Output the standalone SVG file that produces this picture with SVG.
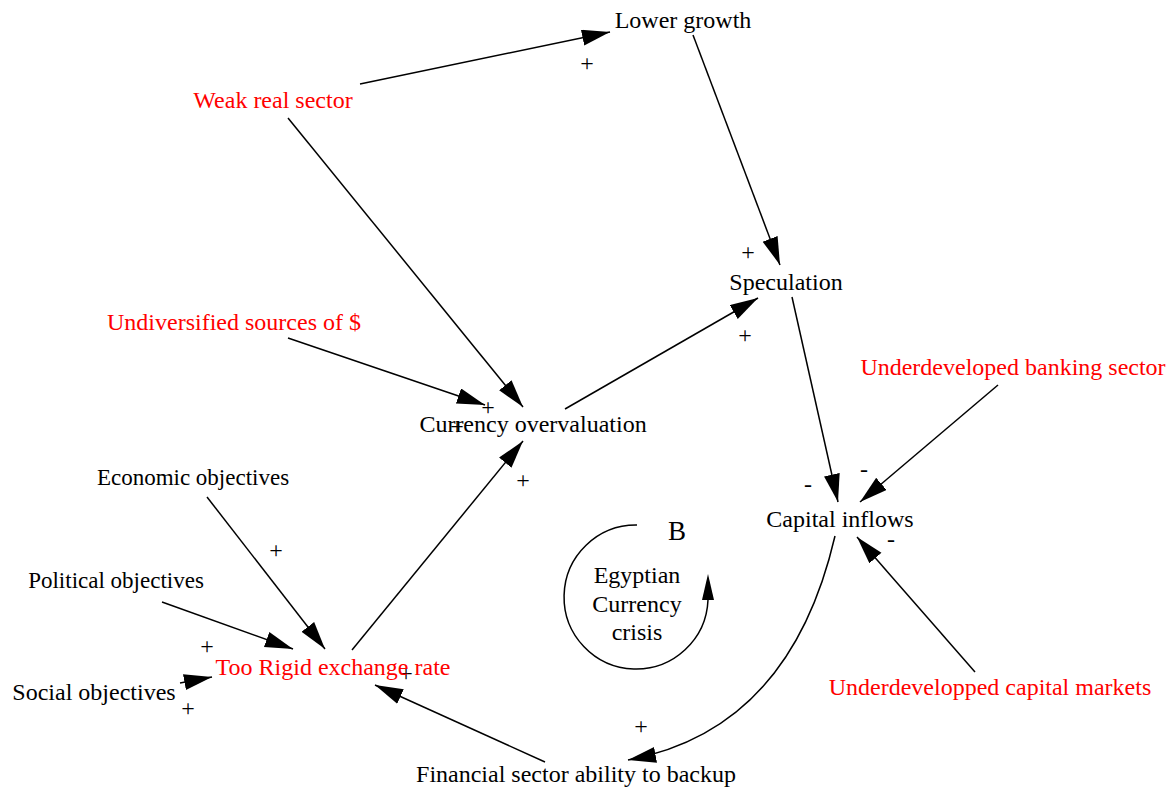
<svg xmlns="http://www.w3.org/2000/svg" width="1173" height="791" viewBox="0 0 1173 791">
<style>
text{font-family:"Liberation Serif","Times New Roman",serif;font-size:24px;fill:#000;text-anchor:middle}
.red{fill:#ff0000}
.sm{font-size:23px}
.sign{font-size:24px}
.e{fill:none;stroke:#000;stroke-width:1.5}
</style>
<defs>
<marker id="ah" markerUnits="userSpaceOnUse" markerWidth="30" markerHeight="18" refX="28" refY="8" orient="auto" viewBox="0 0 30 18">
<path d="M0,0 L28,8 L0,16 z" fill="#000"/>
</marker>
</defs>
<g id="connectors">
<path class="e" d="M360,84 L610,32" marker-end="url(#ah)"/>
<path class="e" d="M693,35 L780,265" marker-end="url(#ah)"/>
<path class="e" d="M288,118 L523,407" marker-end="url(#ah)"/>
<path class="e" d="M288,338 L485,405" marker-end="url(#ah)"/>
<path class="e" d="M565,409 L758,298" marker-end="url(#ah)"/>
<path class="e" d="M352,650 L523,441" marker-end="url(#ah)"/>
<path class="e" d="M207,497 L325,649" marker-end="url(#ah)"/>
<path class="e" d="M162,602 L293,649" marker-end="url(#ah)"/>
<path class="e" d="M180,683 L212,677" marker-end="url(#ah)"/>
<path class="e" d="M545,762 L375,685" marker-end="url(#ah)"/>
<path class="e" d="M792,297 L838,502" marker-end="url(#ah)"/>
<path class="e" d="M998,385 L860,502" marker-end="url(#ah)"/>
<path class="e" d="M975,672 L857,537" marker-end="url(#ah)"/>
<path class="e" d="M835,536 Q790,730 628,760" marker-end="url(#ah)"/>
<text class="sign" x="587" y="71">+</text>
<text class="sign" x="748" y="260">+</text>
<text class="sign" x="488" y="415">+</text>
<text class="sign" x="457" y="434">+</text>
<text class="sign" x="745" y="343">+</text>
<text class="sign" x="523" y="488">+</text>
<text class="sign" x="276" y="558">+</text>
<text class="sign" x="207" y="654">+</text>
<text class="sign" x="188" y="716">+</text>
<text class="sign" x="406" y="681">+</text>
<text class="sign" x="808" y="492">-</text>
<text class="sign" x="864" y="477">-</text>
<text class="sign" x="891" y="547">-</text>
<text class="sign" x="641" y="734">+</text>
</g>
<g id="loop">
<path class="e" d="M637,525 A72,72 0 1,0 708,600" />
<path d="M702,600 L708,574 L714,600 z" fill="#000"/>
<text x="677" y="540" style="font-size:27px">B</text>
<text x="637" y="583">Egyptian</text>
<text x="637" y="612">Currency</text>
<text x="637" y="640">crisis</text>
</g>
<g id="n-lower-growth"><text x="683" y="28">Lower growth</text></g>
<g id="n-weak-real-sector"><text class="red" x="273" y="108">Weak real sector</text></g>
<g id="n-speculation"><text x="786" y="290">Speculation</text></g>
<g id="n-undiversified"><text class="red" x="234" y="330">Undiversified sources of $</text></g>
<g id="n-currency-overvaluation"><text x="533" y="432">Currency overvaluation</text></g>
<g id="n-banking"><text class="red" x="1013" y="375">Underdeveloped banking sector</text></g>
<g id="n-economic"><text class="sm" x="193" y="485">Economic objectives</text></g>
<g id="n-capital-inflows"><text x="840" y="527">Capital inflows</text></g>
<g id="n-political"><text class="sm" x="116" y="588">Political objectives</text></g>
<g id="n-too-rigid"><text class="red" x="333" y="675">Too Rigid exchange rate</text></g>
<g id="n-social"><text x="94" y="700">Social objectives</text></g>
<g id="n-capital-markets"><text class="red" x="990" y="695">Underdevelopped capital markets</text></g>
<g id="n-financial"><text x="576" y="782">Financial sector ability to backup</text></g>
</svg>
